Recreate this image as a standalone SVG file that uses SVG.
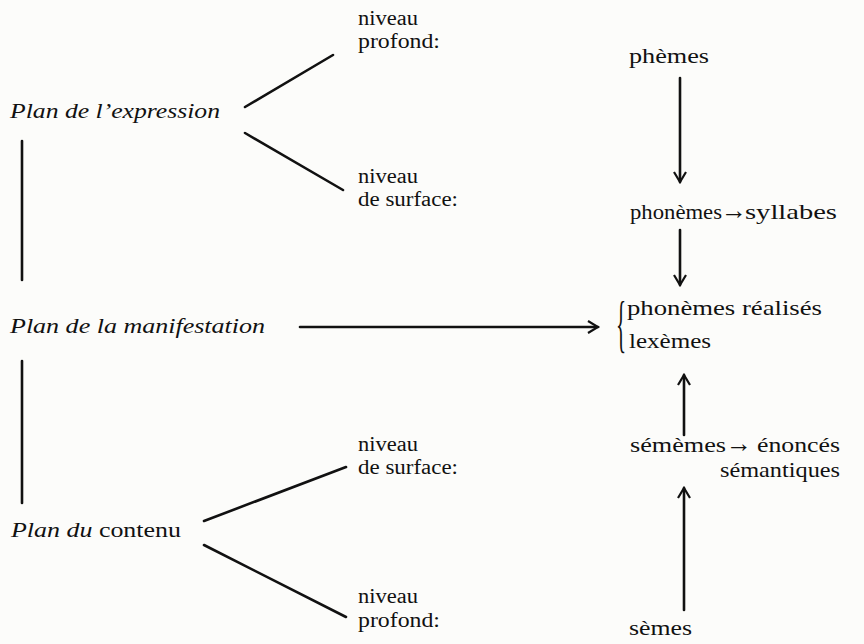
<svg xmlns="http://www.w3.org/2000/svg" width="864" height="644" viewBox="0 0 864 644">
<style>
.t{font-family:"Liberation Serif","Times New Roman",serif;font-size:22px;fill:#111}
.s{font-size:20px}
.i{font-style:italic}
.ln{stroke:#111;stroke-width:2.6;fill:none;stroke-linecap:round}
</style>
<defs>
<marker id="ah" viewBox="0 0 14 14" refX="12" refY="7" markerWidth="14" markerHeight="14" markerUnits="userSpaceOnUse" orient="auto">
<path d="M2,1 L12,7 L2,13" fill="none" stroke="#111" stroke-width="2.2"/>
</marker>
</defs>
<rect width="864" height="644" fill="#fcfcfa"/>
<g id="plan-expression"><text class="t i" x="10" y="118" textLength="210" lengthAdjust="spacingAndGlyphs">Plan de l’expression</text></g>
<g id="plan-manifestation"><text class="t i" x="10" y="333" textLength="255" lengthAdjust="spacingAndGlyphs">Plan de la manifestation</text></g>
<g id="plan-contenu"><text class="t" x="11" y="537" textLength="170" lengthAdjust="spacingAndGlyphs"><tspan class="i">Plan du</tspan> contenu</text></g>
<g id="expr-profond"><text class="t s" x="358" y="25" textLength="60" lengthAdjust="spacingAndGlyphs">niveau</text><text class="t s" x="358" y="48" textLength="82" lengthAdjust="spacingAndGlyphs">profond:</text></g>
<g id="expr-surface"><text class="t s" x="358" y="183" textLength="60" lengthAdjust="spacingAndGlyphs">niveau</text><text class="t s" x="358" y="206" textLength="100" lengthAdjust="spacingAndGlyphs">de surface:</text></g>
<g id="cont-surface"><text class="t s" x="358" y="451" textLength="60" lengthAdjust="spacingAndGlyphs">niveau</text><text class="t s" x="358" y="474" textLength="100" lengthAdjust="spacingAndGlyphs">de surface:</text></g>
<g id="cont-profond"><text class="t s" x="358" y="603" textLength="60" lengthAdjust="spacingAndGlyphs">niveau</text><text class="t s" x="358" y="627" textLength="82" lengthAdjust="spacingAndGlyphs">profond:</text></g>
<g id="phemes"><text class="t" x="629" y="63" textLength="80" lengthAdjust="spacingAndGlyphs">phèmes</text></g>
<g id="phonemes-syllabes"><text class="t" x="630" y="219"><tspan x="630" textLength="92" lengthAdjust="spacingAndGlyphs">phonèmes</tspan><tspan x="721" style="font-size:26px">→</tspan><tspan x="745" textLength="92" lengthAdjust="spacingAndGlyphs">syllabes</tspan></text></g>
<g id="manifestation"><text class="t" x="0" y="0" style="font-size:64px" transform="translate(616 345) scale(0.33 1)">{</text><text class="t" x="627" y="315" textLength="195" lengthAdjust="spacingAndGlyphs">phonèmes réalisés</text><text class="t" x="629" y="348" textLength="82" lengthAdjust="spacingAndGlyphs">lexèmes</text></g>
<g id="sememes"><text class="t" x="630" y="452"><tspan x="630" textLength="96" lengthAdjust="spacingAndGlyphs">sémèmes</tspan><tspan x="726" style="font-size:26px">→</tspan><tspan x="757" textLength="83" lengthAdjust="spacingAndGlyphs">énoncés</tspan></text><text class="t" x="720" y="477" textLength="120" lengthAdjust="spacingAndGlyphs">sémantiques</text></g>
<g id="semes"><text class="t" x="629" y="635" textLength="63" lengthAdjust="spacingAndGlyphs">sèmes</text></g>
<g id="connectors">
<line class="ln" x1="22" y1="141" x2="22" y2="280"/>
<line class="ln" x1="22" y1="361" x2="22" y2="503"/>
<line class="ln" x1="245" y1="107" x2="333" y2="55"/>
<line class="ln" x1="245" y1="133" x2="343" y2="190"/>
<line class="ln" x1="204" y1="521" x2="346" y2="467"/>
<line class="ln" x1="204" y1="545" x2="346" y2="617"/>
<line class="ln" x1="300" y1="327" x2="598" y2="327" marker-end="url(#ah)"/>
<line class="ln" x1="680" y1="78" x2="680" y2="182" marker-end="url(#ah)"/>
<line class="ln" x1="680" y1="230" x2="680" y2="285" marker-end="url(#ah)"/>
<line class="ln" x1="684" y1="435" x2="684" y2="375" marker-end="url(#ah)"/>
<line class="ln" x1="684" y1="610" x2="684" y2="488" marker-end="url(#ah)"/>
</g>
</svg>
